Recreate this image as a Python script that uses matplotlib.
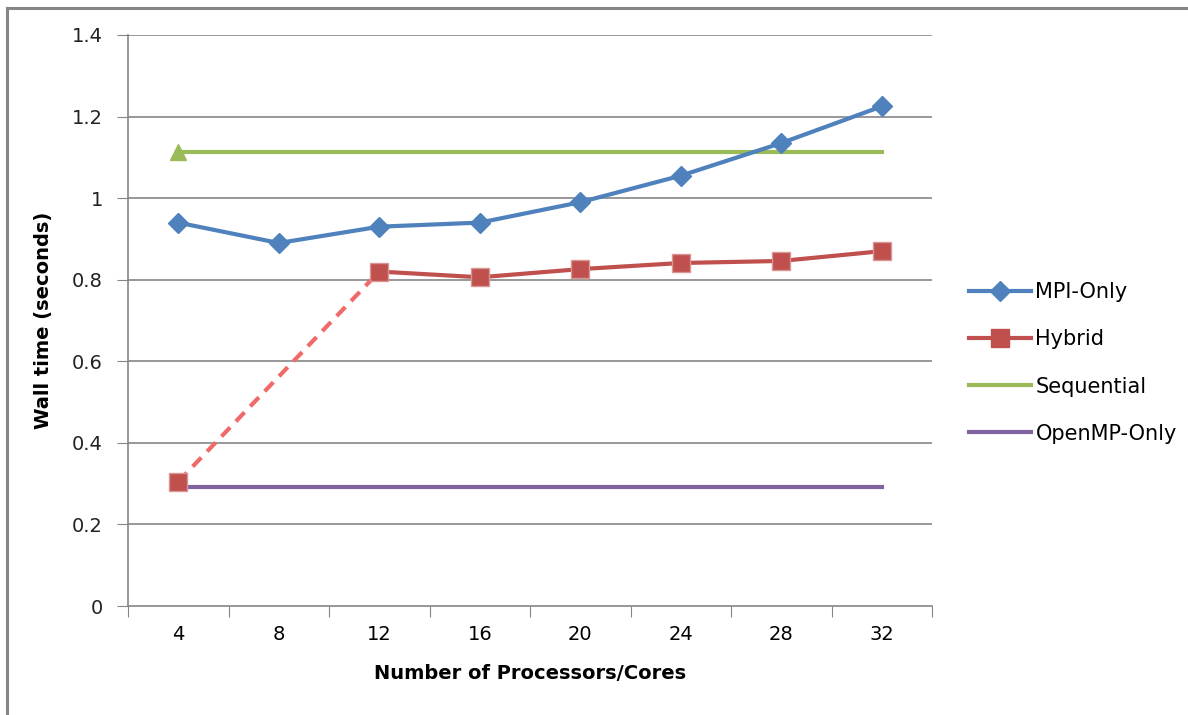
import matplotlib
matplotlib.use("Agg")
import matplotlib.pyplot as plt
import numpy as np
from matplotlib.lines import Line2D

categories = ["4", "8", "12", "16", "20", "24", "28", "32"]
mpi_only = [0.94, 0.89, 0.93, 0.94, 0.99, 1.055, 1.135, 1.225]
hybrid = [0.305, None, 0.82, 0.806, 0.826, 0.841, 0.846, 0.870]
sequential = [1.112] * 8
openmp_only = [0.292] * 8
y_ticks = [0, 0.2, 0.4, 0.6, 0.8, 1.0, 1.2, 1.4]
y_tick_labels = ["0", "0.2", "0.4", "0.6", "0.8", "1", "1.2", "1.4"]

fig = plt.figure(figsize=(11.88, 7.15), dpi=100)
ax = fig.add_axes([128/1188, 109/715, 804/1188, 571/715])

x = np.arange(len(categories))

c_mpi = "#4F81BD"
c_hyb = "#C0504D"
c_seq = "#9BBB59"
c_omp = "#8064A2"

# gridlines
for yv in y_ticks[1:]:
    ax.axhline(yv, color="#868686", lw=1.2, zorder=0)

ax.plot(x, sequential, color=c_seq, lw=3, marker="^", markevery=[0], markersize=11,
        label="Sequential", zorder=2)
ax.plot(x, openmp_only, color=c_omp, lw=3, label="OpenMP-Only", zorder=2)

# Hybrid: dashed connector across the missing value
hv = np.array([np.nan if v is None else v for v in hybrid])
valid = ~np.isnan(hv)
xv = x[valid]
yvv = hv[valid]
ax.plot(xv[:2], yvv[:2], color="#F06A6A", lw=3, ls=(0, (3, 2)), zorder=3)
ax.plot(xv[1:], yvv[1:], color=c_hyb, lw=3, zorder=3)
ax.plot(xv, yvv, ls="none", marker="s", markersize=13, color=c_hyb,
        markeredgecolor="#D99694", markeredgewidth=1, zorder=4)
ax.plot([], [], color=c_hyb, lw=3, marker="s", markersize=13, label="Hybrid")

ax.plot(x, mpi_only, color=c_mpi, lw=3, marker="D", markersize=10, label="MPI-Only", zorder=5)

ax.set_xlim(-0.5, len(categories) - 0.5)
ax.set_ylim(0, 1.4)
ax.set_yticks(y_ticks)
ax.set_yticklabels(y_tick_labels, fontsize=14, family="DejaVu Sans", color="#222222")
ax.set_xticks(np.arange(-0.5, len(categories)), minor=False)
ax.set_xticklabels([])
ax.set_xticks(x, minor=True)
ax.set_xticklabels(categories, minor=True, fontsize=14)
ax.tick_params(axis="x", which="major", length=8, color="#868686", direction="out")
ax.tick_params(axis="x", which="minor", length=0, pad=14)
ax.tick_params(axis="y", length=8, color="#868686", pad=10)

for s in ["top", "right"]:
    ax.spines[s].set_visible(False)
for s in ["left", "bottom"]:
    ax.spines[s].set_color("#868686")
    ax.spines[s].set_linewidth(1.2)

ax.set_xlabel("Number of Processors/Cores", fontsize=14, fontweight="bold", labelpad=14)
ax.set_ylabel("Wall time (seconds)", fontsize=14, fontweight="bold", labelpad=14)

handles, labels = ax.get_legend_handles_labels()
order = {"MPI-Only": 0, "Hybrid": 1, "Sequential": 2, "OpenMP-Only": 3}
hl = sorted(zip(handles, labels), key=lambda t: order[t[1]])
leg = fig.legend([h for h, _ in hl], [l for _, l in hl], loc="center left",
                 bbox_to_anchor=(950/1188, 1 - 363/715), frameon=False, fontsize=15,
                 labelspacing=1.3, handlelength=3.0, handletextpad=0.2)
for h in leg.legend_handles:
    if h.get_label() == "Sequential":
        h.set_marker("")

# outer frame: top and left edges only
fig.add_artist(Line2D([7/1188, 1.0], [1 - 7.5/715, 1 - 7.5/715], transform=fig.transFigure,
                      color="#868686", lw=2.2))
fig.add_artist(Line2D([7/1188, 7/1188], [1 - 7.5/715, 1/715], transform=fig.transFigure,
                      color="#868686", lw=2.2))

fig.savefig("out.png", dpi=100)
